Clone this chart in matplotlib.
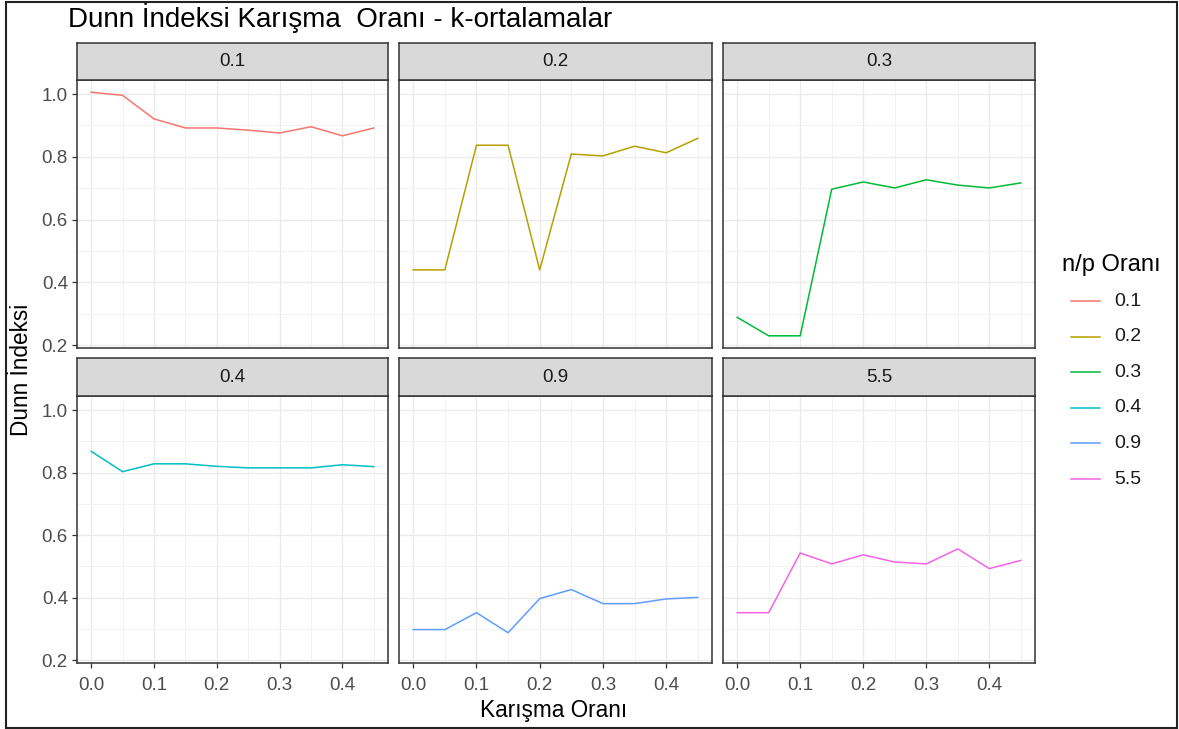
import matplotlib.pyplot as plt
import numpy as np
from matplotlib.lines import Line2D
from matplotlib.patches import Rectangle

plt.rcParams['font.family'] = ['Liberation Sans', 'DejaVu Sans']

# mixing ratio (x) shared by every facet
karisma = [0.0, 0.05, 0.10, 0.15, 0.20, 0.25, 0.30, 0.35, 0.40, 0.45]

np_oran = ["0.1", "0.2", "0.3", "0.4", "0.9", "5.5"]

dunn_01 = [1.006, 0.996, 0.921, 0.892, 0.892, 0.885, 0.876, 0.896, 0.867, 0.892]
dunn_02 = [0.440, 0.440, 0.837, 0.837, 0.440, 0.809, 0.803, 0.834, 0.813, 0.859]
dunn_03 = [0.289, 0.230, 0.230, 0.697, 0.720, 0.701, 0.727, 0.710, 0.701, 0.717]
dunn_04 = [0.868, 0.803, 0.828, 0.828, 0.820, 0.815, 0.815, 0.815, 0.825, 0.819]
dunn_09 = [0.298, 0.298, 0.352, 0.288, 0.397, 0.426, 0.381, 0.381, 0.396, 0.401]
dunn_55 = [0.352, 0.352, 0.543, 0.508, 0.537, 0.514, 0.508, 0.556, 0.493, 0.519]

series = [dunn_01, dunn_02, dunn_03, dunn_04, dunn_09, dunn_55]
colors = ["#F8766D", "#B79F00", "#00BA38", "#00BFC4", "#619CFF", "#F564E3"]

W, H = 1179, 729
fig = plt.figure(figsize=(W / 100, H / 100), dpi=100)

def frac(x0, y0, x1, y1):
    # pixel box (top-left origin) -> figure fraction rect
    return [x0 / W, 1 - y1 / H, (x1 - x0) / W, (y1 - y0) / H]

cols = [(77, 388), (399, 712), (723, 1035)]
rows = [(43, 80, 348), (358, 396, 663)]

allv = np.concatenate(series)
lo, hi = allv.min(), allv.max()
pad = 0.05 * (hi - lo)
xpad = 0.05 * (max(karisma) - min(karisma))

border = "#333333"
for i, (lab, vals, col) in enumerate(zip(np_oran, series, colors)):
    r, c = divmod(i, 3)
    x0, x1 = cols[c]
    st, sb, pb = rows[r]

    ax = fig.add_axes(frac(x0, sb, x1, pb))
    ax.plot(karisma, vals, color=col, lw=1.1)
    ax.set_xlim(min(karisma) - xpad, max(karisma) + xpad)
    ax.set_ylim(lo - pad, hi + pad)
    ax.set_xticks([0.0, 0.1, 0.2, 0.3, 0.4])
    ax.set_xticks([0.05, 0.15, 0.25, 0.35, 0.45], minor=True)
    ax.set_yticks([0.2, 0.4, 0.6, 0.8, 1.0])
    ax.set_yticks([0.3, 0.5, 0.7, 0.9], minor=True)
    ax.grid(True, which='major', color="#EBEBEB", lw=1.0)
    ax.grid(True, which='minor', color="#F3F3F3", lw=0.7)
    ax.set_axisbelow(True)
    for sp in ax.spines.values():
        sp.set_color(border)
        sp.set_linewidth(1.1)
    ax.tick_params(which='major', length=3.5, width=0.9, color=border,
                   labelcolor="#4D4D4D", labelsize=13.5, pad=3)
    ax.tick_params(axis='x', which='major', pad=6.5)
    ax.tick_params(which='minor', length=0)
    ax.xaxis.set_major_formatter(plt.FuncFormatter(lambda v, p: f"{v:.1f}"))
    ax.yaxis.set_major_formatter(plt.FuncFormatter(lambda v, p: f"{v:.1f}"))
    if c != 0:
        ax.tick_params(axis='y', which='major', length=0, labelleft=False)
    if r == 0:
        ax.tick_params(axis='x', which='major', length=0, labelbottom=False)

    # facet strip
    sax = fig.add_axes(frac(x0, st, x1, sb))
    sax.set_facecolor("#D9D9D9")
    sax.set_xticks([])
    sax.set_yticks([])
    for sp in sax.spines.values():
        sp.set_color(border)
        sp.set_linewidth(1.1)
    sax.text(0.5, 0.5, lab, ha='center', va='center', fontsize=13.5,
             color="#1A1A1A", transform=sax.transAxes)

fig.text(68 / W, 1 - 18 / H, "Dunn İndeksi Karışma  Oranı - k-ortalamalar",
         ha='left', va='center', fontsize=20, color="black")
fig.text(554 / W, 1 - 710 / H, "Karışma Oranı", ha='center', va='center',
         fontsize=16.3, color="black")
fig.text(22 / W, 1 - 370 / H, "Dunn İndeksi", ha='center', va='center',
         fontsize=16.3, color="black", rotation=90)

# legend
fig.text(1062 / W, 1 - 265 / H, "n/p Oranı", ha='left', va='center',
         fontsize=17, color="black")
for k, (lab, col) in enumerate(zip(np_oran, colors)):
    yy = 1 - (301 + k * 35.6) / H
    fig.add_artist(Line2D([1071 / W, 1100 / W], [yy, yy], color=col, lw=1.1))
    fig.text(1114 / W, yy, lab, ha='left', va='center', fontsize=14,
             color="#1A1A1A")

# outer frame
fig.add_artist(Rectangle((6 / W, 1 / H), (1177 - 6) / W, (727 - 1) / H,
                         transform=fig.transFigure, fill=False,
                         edgecolor="#222222", lw=1.5))

fig.savefig("out.png", dpi=100)
